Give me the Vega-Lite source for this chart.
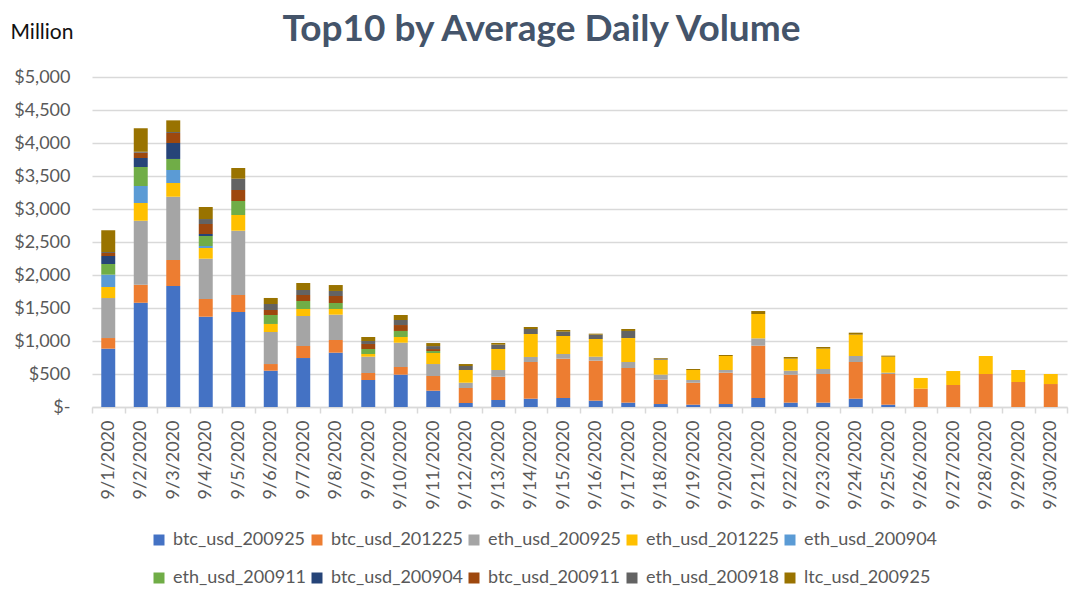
{
  "$schema": "https://vega.github.io/schema/vega-lite/v6.json",
  "width": 975,
  "height": 330,
  "autosize": {"type": "none"},
  "padding": {"left": 92, "top": 77, "right": 10, "bottom": 192},
  "background": "white",
  "title": {
    "text": "Top10 by Average Daily Volume",
    "font": "Lato",
    "fontSize": 37,
    "fontWeight": "bold",
    "color": "#44546A",
    "anchor": "middle",
    "dx": -38,
    "offset": -28
  },
  "config": {
    "view": {"stroke": null},
    "axis": {"labelFont": "Lato", "titleFont": "Lato"}
  },
  "data": {
    "values": [
      {"date": "9/1/2020", "series": "btc_usd_200925", "value": 884},
      {"date": "9/1/2020", "series": "btc_usd_201225", "value": 161},
      {"date": "9/1/2020", "series": "eth_usd_200925", "value": 606},
      {"date": "9/1/2020", "series": "eth_usd_201225", "value": 167},
      {"date": "9/1/2020", "series": "eth_usd_200904", "value": 187},
      {"date": "9/1/2020", "series": "eth_usd_200911", "value": 162},
      {"date": "9/1/2020", "series": "btc_usd_200904", "value": 121},
      {"date": "9/1/2020", "series": "btc_usd_200911", "value": 45},
      {"date": "9/1/2020", "series": "eth_usd_200918", "value": 15},
      {"date": "9/1/2020", "series": "ltc_usd_200925", "value": 330},
      {"date": "9/2/2020", "series": "btc_usd_200925", "value": 1580},
      {"date": "9/2/2020", "series": "btc_usd_201225", "value": 273},
      {"date": "9/2/2020", "series": "eth_usd_200925", "value": 970},
      {"date": "9/2/2020", "series": "eth_usd_201225", "value": 268},
      {"date": "9/2/2020", "series": "eth_usd_200904", "value": 257},
      {"date": "9/2/2020", "series": "eth_usd_200911", "value": 288},
      {"date": "9/2/2020", "series": "btc_usd_200904", "value": 137},
      {"date": "9/2/2020", "series": "btc_usd_200911", "value": 80},
      {"date": "9/2/2020", "series": "eth_usd_200918", "value": 15},
      {"date": "9/2/2020", "series": "ltc_usd_200925", "value": 354},
      {"date": "9/3/2020", "series": "btc_usd_200925", "value": 1833},
      {"date": "9/3/2020", "series": "btc_usd_201225", "value": 394},
      {"date": "9/3/2020", "series": "eth_usd_200925", "value": 959},
      {"date": "9/3/2020", "series": "eth_usd_201225", "value": 208},
      {"date": "9/3/2020", "series": "eth_usd_200904", "value": 197},
      {"date": "9/3/2020", "series": "eth_usd_200911", "value": 167},
      {"date": "9/3/2020", "series": "btc_usd_200904", "value": 242},
      {"date": "9/3/2020", "series": "btc_usd_200911", "value": 152},
      {"date": "9/3/2020", "series": "eth_usd_200918", "value": 15},
      {"date": "9/3/2020", "series": "ltc_usd_200925", "value": 176},
      {"date": "9/4/2020", "series": "btc_usd_200925", "value": 1368},
      {"date": "9/4/2020", "series": "btc_usd_201225", "value": 268},
      {"date": "9/4/2020", "series": "eth_usd_200925", "value": 611},
      {"date": "9/4/2020", "series": "eth_usd_201225", "value": 162},
      {"date": "9/4/2020", "series": "eth_usd_200904", "value": 30},
      {"date": "9/4/2020", "series": "eth_usd_200911", "value": 152},
      {"date": "9/4/2020", "series": "btc_usd_200904", "value": 30},
      {"date": "9/4/2020", "series": "btc_usd_200911", "value": 152},
      {"date": "9/4/2020", "series": "eth_usd_200918", "value": 75},
      {"date": "9/4/2020", "series": "ltc_usd_200925", "value": 182},
      {"date": "9/5/2020", "series": "btc_usd_200925", "value": 1439},
      {"date": "9/5/2020", "series": "btc_usd_201225", "value": 258},
      {"date": "9/5/2020", "series": "eth_usd_200925", "value": 974},
      {"date": "9/5/2020", "series": "eth_usd_201225", "value": 238},
      {"date": "9/5/2020", "series": "eth_usd_200911", "value": 212},
      {"date": "9/5/2020", "series": "btc_usd_200911", "value": 167},
      {"date": "9/5/2020", "series": "eth_usd_200918", "value": 171},
      {"date": "9/5/2020", "series": "ltc_usd_200925", "value": 162},
      {"date": "9/6/2020", "series": "btc_usd_200925", "value": 550},
      {"date": "9/6/2020", "series": "btc_usd_201225", "value": 101},
      {"date": "9/6/2020", "series": "eth_usd_200925", "value": 485},
      {"date": "9/6/2020", "series": "eth_usd_201225", "value": 122},
      {"date": "9/6/2020", "series": "eth_usd_200911", "value": 136},
      {"date": "9/6/2020", "series": "btc_usd_200911", "value": 76},
      {"date": "9/6/2020", "series": "eth_usd_200918", "value": 91},
      {"date": "9/6/2020", "series": "ltc_usd_200925", "value": 91},
      {"date": "9/7/2020", "series": "btc_usd_200925", "value": 742},
      {"date": "9/7/2020", "series": "btc_usd_201225", "value": 182},
      {"date": "9/7/2020", "series": "eth_usd_200925", "value": 455},
      {"date": "9/7/2020", "series": "eth_usd_201225", "value": 106},
      {"date": "9/7/2020", "series": "eth_usd_200911", "value": 121},
      {"date": "9/7/2020", "series": "btc_usd_200911", "value": 91},
      {"date": "9/7/2020", "series": "eth_usd_200918", "value": 76},
      {"date": "9/7/2020", "series": "ltc_usd_200925", "value": 106},
      {"date": "9/8/2020", "series": "btc_usd_200925", "value": 823},
      {"date": "9/8/2020", "series": "btc_usd_201225", "value": 192},
      {"date": "9/8/2020", "series": "eth_usd_200925", "value": 384},
      {"date": "9/8/2020", "series": "eth_usd_201225", "value": 86},
      {"date": "9/8/2020", "series": "eth_usd_200911", "value": 91},
      {"date": "9/8/2020", "series": "btc_usd_200911", "value": 106},
      {"date": "9/8/2020", "series": "eth_usd_200918", "value": 76},
      {"date": "9/8/2020", "series": "ltc_usd_200925", "value": 90},
      {"date": "9/9/2020", "series": "btc_usd_200925", "value": 409},
      {"date": "9/9/2020", "series": "btc_usd_201225", "value": 106},
      {"date": "9/9/2020", "series": "eth_usd_200925", "value": 247},
      {"date": "9/9/2020", "series": "eth_usd_201225", "value": 41},
      {"date": "9/9/2020", "series": "eth_usd_200911", "value": 76},
      {"date": "9/9/2020", "series": "btc_usd_200911", "value": 76},
      {"date": "9/9/2020", "series": "eth_usd_200918", "value": 45},
      {"date": "9/9/2020", "series": "ltc_usd_200925", "value": 61},
      {"date": "9/10/2020", "series": "btc_usd_200925", "value": 490},
      {"date": "9/10/2020", "series": "btc_usd_201225", "value": 116},
      {"date": "9/10/2020", "series": "eth_usd_200925", "value": 368},
      {"date": "9/10/2020", "series": "eth_usd_201225", "value": 87},
      {"date": "9/10/2020", "series": "eth_usd_200911", "value": 91},
      {"date": "9/10/2020", "series": "btc_usd_200911", "value": 90},
      {"date": "9/10/2020", "series": "eth_usd_200918", "value": 76},
      {"date": "9/10/2020", "series": "ltc_usd_200925", "value": 76},
      {"date": "9/11/2020", "series": "btc_usd_200925", "value": 247},
      {"date": "9/11/2020", "series": "btc_usd_201225", "value": 223},
      {"date": "9/11/2020", "series": "eth_usd_200925", "value": 181},
      {"date": "9/11/2020", "series": "eth_usd_201225", "value": 167},
      {"date": "9/11/2020", "series": "eth_usd_200911", "value": 30},
      {"date": "9/11/2020", "series": "btc_usd_200911", "value": 30},
      {"date": "9/11/2020", "series": "eth_usd_200918", "value": 45},
      {"date": "9/11/2020", "series": "ltc_usd_200925", "value": 46},
      {"date": "9/12/2020", "series": "btc_usd_200925", "value": 61},
      {"date": "9/12/2020", "series": "btc_usd_201225", "value": 227},
      {"date": "9/12/2020", "series": "eth_usd_200925", "value": 80},
      {"date": "9/12/2020", "series": "eth_usd_201225", "value": 193},
      {"date": "9/12/2020", "series": "eth_usd_200918", "value": 60},
      {"date": "9/12/2020", "series": "ltc_usd_200925", "value": 30},
      {"date": "9/13/2020", "series": "btc_usd_200925", "value": 106},
      {"date": "9/13/2020", "series": "btc_usd_201225", "value": 353},
      {"date": "9/13/2020", "series": "eth_usd_200925", "value": 102},
      {"date": "9/13/2020", "series": "eth_usd_201225", "value": 318},
      {"date": "9/13/2020", "series": "eth_usd_200918", "value": 65},
      {"date": "9/13/2020", "series": "ltc_usd_200925", "value": 26},
      {"date": "9/14/2020", "series": "btc_usd_200925", "value": 126},
      {"date": "9/14/2020", "series": "btc_usd_201225", "value": 556},
      {"date": "9/14/2020", "series": "eth_usd_200925", "value": 76},
      {"date": "9/14/2020", "series": "eth_usd_201225", "value": 348},
      {"date": "9/14/2020", "series": "eth_usd_200918", "value": 76},
      {"date": "9/14/2020", "series": "ltc_usd_200925", "value": 30},
      {"date": "9/15/2020", "series": "btc_usd_200925", "value": 136},
      {"date": "9/15/2020", "series": "btc_usd_201225", "value": 596},
      {"date": "9/15/2020", "series": "eth_usd_200925", "value": 71},
      {"date": "9/15/2020", "series": "eth_usd_201225", "value": 273},
      {"date": "9/15/2020", "series": "eth_usd_200918", "value": 65},
      {"date": "9/15/2020", "series": "ltc_usd_200925", "value": 26},
      {"date": "9/16/2020", "series": "btc_usd_200925", "value": 96},
      {"date": "9/16/2020", "series": "btc_usd_201225", "value": 606},
      {"date": "9/16/2020", "series": "eth_usd_200925", "value": 60},
      {"date": "9/16/2020", "series": "eth_usd_201225", "value": 268},
      {"date": "9/16/2020", "series": "eth_usd_200918", "value": 66},
      {"date": "9/16/2020", "series": "ltc_usd_200925", "value": 15},
      {"date": "9/17/2020", "series": "btc_usd_200925", "value": 66},
      {"date": "9/17/2020", "series": "btc_usd_201225", "value": 525},
      {"date": "9/17/2020", "series": "eth_usd_200925", "value": 91},
      {"date": "9/17/2020", "series": "eth_usd_201225", "value": 363},
      {"date": "9/17/2020", "series": "eth_usd_200918", "value": 107},
      {"date": "9/17/2020", "series": "ltc_usd_200925", "value": 30},
      {"date": "9/18/2020", "series": "btc_usd_200925", "value": 45},
      {"date": "9/18/2020", "series": "btc_usd_201225", "value": 369},
      {"date": "9/18/2020", "series": "eth_usd_200925", "value": 76},
      {"date": "9/18/2020", "series": "eth_usd_201225", "value": 227},
      {"date": "9/18/2020", "series": "eth_usd_200918", "value": 15},
      {"date": "9/18/2020", "series": "ltc_usd_200925", "value": 10},
      {"date": "9/19/2020", "series": "btc_usd_200925", "value": 35},
      {"date": "9/19/2020", "series": "btc_usd_201225", "value": 333},
      {"date": "9/19/2020", "series": "eth_usd_200925", "value": 41},
      {"date": "9/19/2020", "series": "eth_usd_201225", "value": 152},
      {"date": "9/19/2020", "series": "ltc_usd_200925", "value": 15},
      {"date": "9/20/2020", "series": "btc_usd_200925", "value": 45},
      {"date": "9/20/2020", "series": "btc_usd_201225", "value": 475},
      {"date": "9/20/2020", "series": "eth_usd_200925", "value": 41},
      {"date": "9/20/2020", "series": "eth_usd_201225", "value": 212},
      {"date": "9/20/2020", "series": "ltc_usd_200925", "value": 15},
      {"date": "9/21/2020", "series": "btc_usd_200925", "value": 136},
      {"date": "9/21/2020", "series": "btc_usd_201225", "value": 793},
      {"date": "9/21/2020", "series": "eth_usd_200925", "value": 111},
      {"date": "9/21/2020", "series": "eth_usd_201225", "value": 369},
      {"date": "9/21/2020", "series": "ltc_usd_200925", "value": 45},
      {"date": "9/22/2020", "series": "btc_usd_200925", "value": 66},
      {"date": "9/22/2020", "series": "btc_usd_201225", "value": 424},
      {"date": "9/22/2020", "series": "eth_usd_200925", "value": 60},
      {"date": "9/22/2020", "series": "eth_usd_201225", "value": 182},
      {"date": "9/22/2020", "series": "ltc_usd_200925", "value": 26},
      {"date": "9/23/2020", "series": "btc_usd_200925", "value": 66},
      {"date": "9/23/2020", "series": "btc_usd_201225", "value": 434},
      {"date": "9/23/2020", "series": "eth_usd_200925", "value": 76},
      {"date": "9/23/2020", "series": "eth_usd_201225", "value": 308},
      {"date": "9/23/2020", "series": "ltc_usd_200925", "value": 25},
      {"date": "9/24/2020", "series": "btc_usd_200925", "value": 126},
      {"date": "9/24/2020", "series": "btc_usd_201225", "value": 556},
      {"date": "9/24/2020", "series": "eth_usd_200925", "value": 91},
      {"date": "9/24/2020", "series": "eth_usd_201225", "value": 323},
      {"date": "9/24/2020", "series": "ltc_usd_200925", "value": 30},
      {"date": "9/25/2020", "series": "btc_usd_200925", "value": 35},
      {"date": "9/25/2020", "series": "btc_usd_201225", "value": 465},
      {"date": "9/25/2020", "series": "eth_usd_200925", "value": 20},
      {"date": "9/25/2020", "series": "eth_usd_201225", "value": 242},
      {"date": "9/25/2020", "series": "ltc_usd_200925", "value": 16},
      {"date": "9/26/2020", "series": "btc_usd_201225", "value": 278},
      {"date": "9/26/2020", "series": "eth_usd_201225", "value": 162},
      {"date": "9/27/2020", "series": "btc_usd_201225", "value": 333},
      {"date": "9/27/2020", "series": "eth_usd_201225", "value": 212},
      {"date": "9/28/2020", "series": "btc_usd_201225", "value": 500},
      {"date": "9/28/2020", "series": "eth_usd_201225", "value": 273},
      {"date": "9/29/2020", "series": "btc_usd_201225", "value": 379},
      {"date": "9/29/2020", "series": "eth_usd_201225", "value": 182},
      {"date": "9/30/2020", "series": "btc_usd_201225", "value": 348},
      {"date": "9/30/2020", "series": "eth_usd_201225", "value": 152}
    ]
  },
  "transform": [
    {"calculate": "indexof(['btc_usd_200925','btc_usd_201225','eth_usd_200925','eth_usd_201225','eth_usd_200904','eth_usd_200911','btc_usd_200904','btc_usd_200911','eth_usd_200918','ltc_usd_200925'], datum.series)", "as": "k"}
  ],
  "mark": {"type": "bar", "width": {"band": 0.43}},
  "encoding": {
    "x": {
      "field": "date",
      "type": "nominal",
      "sort": null,
      "scale": {"paddingInner": 0, "paddingOuter": 0},
      "axis": {
        "title": null,
        "labelAngle": -90,
        "labelAlign": "right",
        "labelBaseline": "middle",
        "labelFontSize": 18,
        "labelColor": "#595959",
        "labelPadding": 7,
        "tickBand": "extent",
        "tickSize": 6,
        "tickColor": "#D9D9D9",
        "tickWidth": 1.5,
        "domainColor": "#D9D9D9",
        "domainWidth": 1.5,
        "grid": false
      }
    },
    "y": {
      "field": "value",
      "type": "quantitative",
      "stack": "zero",
      "scale": {"domain": [0, 5000]},
      "axis": {
        "title": "Million",
        "titleAngle": 0,
        "titleX": -82,
        "titleY": -45,
        "titleAlign": "left",
        "titleBaseline": "middle",
        "titleFontSize": 21,
        "titleFontWeight": "normal",
        "titleColor": "#111111",
        "values": [0, 500, 1000, 1500, 2000, 2500, 3000, 3500, 4000, 4500, 5000],
        "labelExpr": "datum.value == 0 ? '$-' : '$' + format(datum.value, ',')",
        "labelFontSize": 18,
        "labelColor": "#595959",
        "labelPadding": 22,
        "ticks": false,
        "domain": false,
        "grid": true,
        "gridColor": "#D9D9D9",
        "gridWidth": 1.5
      }
    },
    "color": {
      "field": "series",
      "type": "nominal",
      "sort": ["btc_usd_200925","btc_usd_201225","eth_usd_200925","eth_usd_201225","eth_usd_200904","eth_usd_200911","btc_usd_200904","btc_usd_200911","eth_usd_200918","ltc_usd_200925"],
      "scale": {
        "domain": ["btc_usd_200925","btc_usd_201225","eth_usd_200925","eth_usd_201225","eth_usd_200904","eth_usd_200911","btc_usd_200904","btc_usd_200911","eth_usd_200918","ltc_usd_200925"],
        "range": ["#4472C4","#ED7D31","#A5A5A5","#FFC000","#5B9BD5","#70AD47","#264478","#9E480E","#636363","#997300"]
      },
      "legend": {
        "title": null,
        "orient": "none",
        "legendX": 58,
        "legendY": 454,
        "direction": "horizontal",
        "columns": 5,
        "symbolType": "square",
        "symbolSize": 121,
        "symbolStrokeWidth": 0,
        "labelFont": "Lato",
        "labelFontSize": 18,
        "labelColor": "#595959",
        "labelOffset": 5,
        "rowPadding": 20,
        "columnPadding": 1,
        "labelLimit": 300
      }
    },
    "order": {"field": "k", "type": "quantitative", "sort": "ascending"}
  }
}
